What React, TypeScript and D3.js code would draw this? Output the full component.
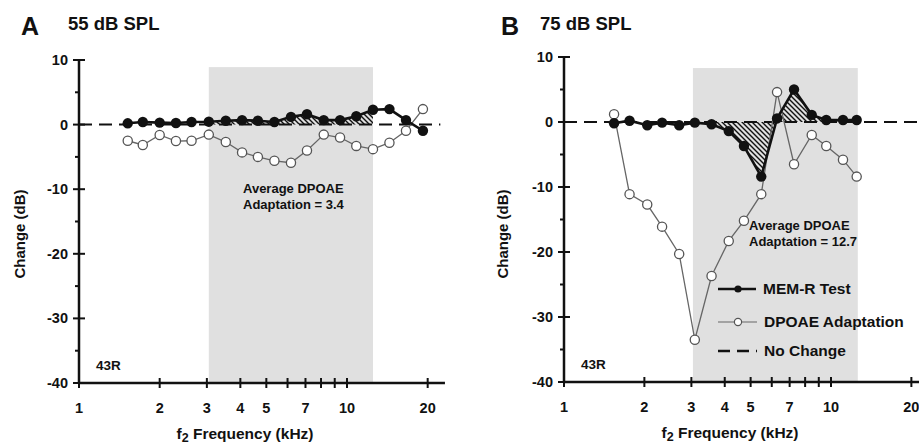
import React from 'react';
import * as d3 from 'd3';

const FONT = "'Liberation Sans', Arial, Helvetica, sans-serif";

// ---- Data ----
const freqA = [1.52, 1.73, 2.0, 2.3, 2.63, 3.05, 3.53, 4.06, 4.65, 5.36, 6.18, 7.09, 8.19, 9.42, 10.83, 12.5, 14.4, 16.6, 19.2];
const memrA = [0.2, 0.4, 0.3, 0.25, 0.4, 0.45, 0.6, 0.7, 0.6, 0.4, 1.2, 1.6, 0.7, 0.7, 1.3, 2.3, 2.4, 0.7, -0.95];
const dpoaeA = [-2.5, -3.15, -1.6, -2.55, -2.5, -1.55, -2.7, -4.3, -5.0, -5.6, -5.9, -4.0, -1.55, -2.0, -3.3, -3.8, -2.8, -0.95, 2.4];

const freqB = [1.54, 1.76, 2.05, 2.33, 2.7, 3.09, 3.57, 4.14, 4.72, 5.48, 6.28, 7.27, 8.47, 9.6, 11.09, 12.48];
const memrB = [-0.2, 0.2, -0.5, -0.1, -0.5, -0.1, -0.35, -1.4, -3.7, -8.4, 0.55, 5.0, 1.1, 0.3, 0.3, 0.3];
const dpoaeB = [1.2, -11.1, -12.7, -16.1, -20.3, -33.5, -23.7, -18.3, -15.2, -11.1, 4.6, -6.5, -2.0, -3.7, -5.8, -8.4];

const greyA = [3.05, 12.5, 8.9];
const greyB = [3.04, 12.6, 8.3];

const yMajor = [10, 0, -10, -20, -30, -40];
const yMinor = [5, -5, -15, -25, -35];
const xTickVals = [1, 2, 3, 4, 5, 6, 7, 8, 9, 10, 20];
const xLabelVals = [1, 2, 3, 4, 5, 7, 10, 20];

const legendItems = ['MEM-R Test', 'DPOAE Adaptation', 'No Change'];

type PanelProps = {
  id: string;
  letter: string;
  title: string;
  freq: number[];
  memr: number[];
  dpoae: number[];
  grey: number[];
  avg: string;
  xr: [number, number];
  yr: [number, number];
  xMax: number;
  zeroEnd: number;
  letterX: number;
  titleX: number;
  ylabX: number;
  ylabY: number;
  xlabX: number;
  avgX: number;
  avgY: number;
  showLegend?: boolean;
};

function Panel(p: PanelProps) {
  const x = d3.scaleLog().domain([1, 10]).range(p.xr);
  const y = d3.scaleLinear().domain([10, -40]).range(p.yr);
  const idx = p.freq.map((_, i) => i);
  const line = d3
    .line<number>()
    .x((i) => x(p.freq[i]))
    .y((i) => y(p.memr[i]));
  const lineD = d3
    .line<number>()
    .x((i) => x(p.freq[i]))
    .y((i) => y(p.dpoae[i]));
  const hatchIdx = idx.filter((i) => p.freq[i] >= p.grey[0] && p.freq[i] <= p.grey[1] + 0.05);
  const area = d3
    .area<number>()
    .x((i) => x(p.freq[i]))
    .y0(y(0))
    .y1((i) => y(p.memr[i]));
  const x0 = x(1);
  const yb = y(-40);

  return (
    <g>
      <defs>
        <pattern id={'hatch' + p.id} width={5} height={5} patternUnits="userSpaceOnUse">
          <path d="M0,0 L5,5 M-1,4 L1,6 M4,-1 L6,1" stroke="#111" strokeWidth={1.4} />
        </pattern>
      </defs>
      <text x={p.letterX} y={35} fontFamily={FONT} fontWeight={900} fontSize={25} fill="#111">{p.letter}</text>
      <text x={p.titleX} y={30} fontFamily={FONT} fontWeight={700} fontSize={18.5} fill="#111">{p.title}</text>

      <rect
        x={x(p.grey[0])}
        y={y(p.grey[2])}
        width={x(p.grey[1]) - x(p.grey[0])}
        height={yb - y(p.grey[2])}
        fill="#e0e0e0"
      />
      <path d={area(hatchIdx) || ''} fill={`url(#hatch${p.id})`} />
      <line x1={x0} x2={x(p.zeroEnd)} y1={y(0)} y2={y(0)} stroke="#111" strokeWidth={2} strokeDasharray="13,7" />

      <path d={lineD(idx) || ''} fill="none" stroke="#666" strokeWidth={1.3} />
      {idx.map((i) => (
        <circle key={'d' + i} cx={x(p.freq[i])} cy={y(p.dpoae[i])} r={4.6} fill="#fff" stroke="#555" strokeWidth={1.3} />
      ))}
      <path d={line(idx) || ''} fill="none" stroke="#111" strokeWidth={2.6} />
      {idx.map((i) => (
        <circle key={'m' + i} cx={x(p.freq[i])} cy={y(p.memr[i])} r={5.2} fill="#111" />
      ))}

      {/* axes */}
      <line x1={x0} x2={x0} y1={y(10)} y2={yb + 1} stroke="#111" strokeWidth={2.5} />
      <line x1={x0 - 1} x2={x(p.xMax)} y1={yb} y2={yb} stroke="#111" strokeWidth={2.5} />
      {yMajor.map((v) => (
        <g key={'ym' + v}>
          <line x1={x0 - 6} x2={x0 + 6} y1={y(v)} y2={y(v)} stroke="#111" strokeWidth={2} />
          <text x={x0 - 11} y={y(v) + 5} textAnchor="end" fontFamily={FONT} fontWeight={700} fontSize={14.5} fill="#111">
            {v}
          </text>
        </g>
      ))}
      {yMinor.map((v) => (
        <line key={'yn' + v} x1={x0 - 4} x2={x0} y1={y(v)} y2={y(v)} stroke="#111" strokeWidth={2} />
      ))}
      {xTickVals.map((v) => (
        <line key={'xt' + v} x1={x(v)} x2={x(v)} y1={yb - 5} y2={yb + 5} stroke="#111" strokeWidth={2} />
      ))}
      {xLabelVals.map((v) => (
        <text key={'xl' + v} x={x(v)} y={yb + 30} textAnchor="middle" fontFamily={FONT} fontWeight={700} fontSize={14.5} fill="#111">
          {v}
        </text>
      ))}
      <text
        transform={`translate(${p.ylabX},${p.ylabY}) rotate(-90)`}
        textAnchor="middle"
        fontFamily={FONT}
        fontWeight={700}
        fontSize={15}
        fill="#111"
      >
        Change (dB)
      </text>
      <text x={p.xlabX} y={yb + 56} textAnchor="middle" fontFamily={FONT} fontWeight={700} fontSize={15.5} fill="#111">
        f<tspan dy={3} fontSize={12.5}>2</tspan>
        <tspan dy={-3}> Frequency (kHz)</tspan>
      </text>
      <text x={x0 + 17} y={yb - 13} fontFamily={FONT} fontWeight={700} fontSize={13.5} fill="#111">43R</text>
      <text x={p.avgX} y={p.avgY} fontFamily={FONT} fontWeight={700} fontSize={13} fill="#111">Average DPOAE</text>
      <text x={p.avgX} y={p.avgY + 16} fontFamily={FONT} fontWeight={700} fontSize={13} fill="#111">{p.avg}</text>

      {p.showLegend && (
        <g fontFamily={FONT} fontWeight={700} fontSize={15.5} fill="#111">
          <line x1={718} x2={756} y1={289} y2={289} stroke="#111" strokeWidth={2.4} />
          <circle cx={738} cy={289} r={3.6} fill="#111" />
          <text x={763} y={294}>{legendItems[0]}</text>
          <line x1={718} x2={757} y1={322} y2={322} stroke="#666" strokeWidth={1.2} />
          <circle cx={738} cy={322} r={3.6} fill="#fff" stroke="#555" strokeWidth={1.2} />
          <text x={764} y={327}>{legendItems[1]}</text>
          <line x1={718} x2={757} y1={351} y2={351} stroke="#111" strokeWidth={2.4} strokeDasharray="12,7" />
          <text x={764} y={356}>{legendItems[2]}</text>
        </g>
      )}
    </g>
  );
}

export default function App() {
  return (
    <svg width={919} height={446} style={{ position: 'absolute', left: 0, top: 0, background: '#fff' }}>
      <rect width={919} height={446} fill="#fff" />
      <Panel
        id="A"
        letter="A"
        title="55 dB SPL"
        freq={freqA}
        memr={memrA}
        dpoae={dpoaeA}
        grey={greyA}
        avg="Adaptation = 3.4"
        xr={[79, 347]}
        yr={[60, 383]}
        xMax={23.2}
        zeroEnd={22.3}
        letterX={21}
        titleX={68}
        ylabX={25}
        ylabY={234}
        xlabX={245}
        avgX={243}
        avgY={193}
      />
      <Panel
        id="B"
        letter="B"
        title="75 dB SPL"
        freq={freqB}
        memr={memrB}
        dpoae={dpoaeB}
        grey={greyB}
        avg="Adaptation = 12.7"
        xr={[564, 831]}
        yr={[57, 382]}
        xMax={30}
        zeroEnd={30}
        letterX={501}
        titleX={540}
        ylabX={508}
        ylabY={234}
        xlabX={730}
        avgX={749}
        avgY={230}
        showLegend
      />
    </svg>
  );
}
